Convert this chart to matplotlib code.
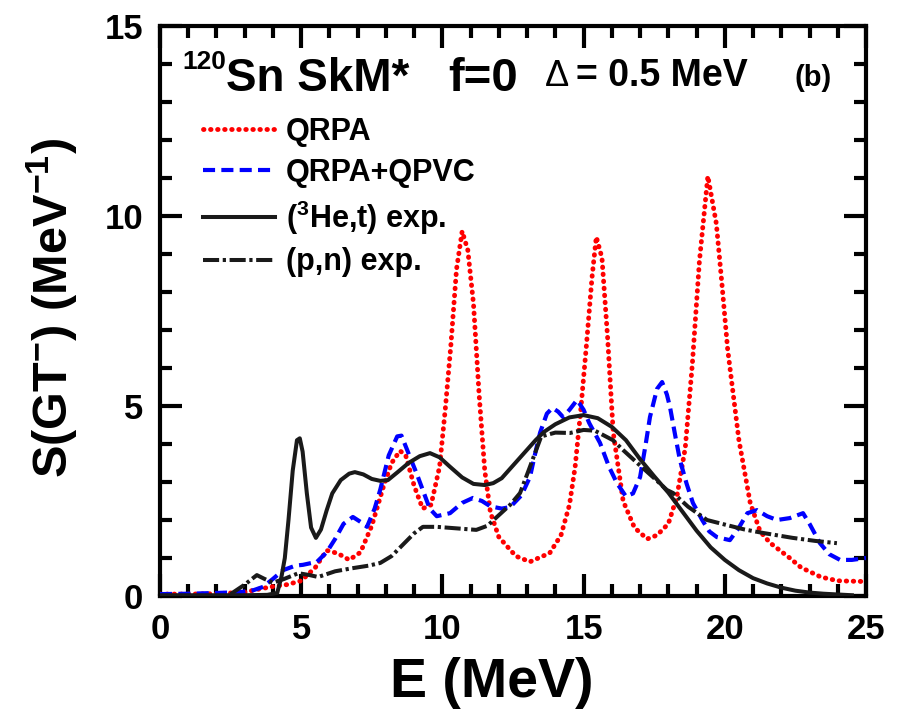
import matplotlib
matplotlib.use("Agg")
import matplotlib.pyplot as plt
from matplotlib.ticker import MultipleLocator

plt.rcParams['font.family'] = ['Liberation Sans', 'DejaVu Sans']
plt.rcParams['font.weight'] = 'bold'
plt.rcParams['mathtext.fontset'] = 'custom'
plt.rcParams['mathtext.rm'] = 'Liberation Sans:bold'
plt.rcParams['mathtext.it'] = 'Liberation Sans:bold'
plt.rcParams['mathtext.bf'] = 'Liberation Sans:bold'
plt.rcParams['mathtext.default'] = 'rm'

# QRPA (red dotted)
qrpa_e = [0, 1, 2, 3, 3.5, 4.0, 4.5, 5.0, 5.5, 5.9, 6.3, 6.7, 7.1, 7.5, 7.9, 8.2, 8.5, 8.7,
          9.0, 9.3, 9.6, 9.9, 10.1, 10.3, 10.5, 10.7, 10.9, 11.1, 11.3, 11.5, 11.7, 12.0,
          12.6, 13.1, 13.8, 14.2, 14.5, 14.7, 14.9, 15.1, 15.3, 15.45, 15.65, 15.85, 16.05,
          16.4, 16.8, 17.25, 17.6, 18.0, 18.3, 18.6, 18.85, 19.1, 19.4, 19.7, 19.9, 20.1,
          20.5, 20.9, 21.25, 21.6, 21.95, 22.3, 22.7, 23.4, 24.0, 25.0]
qrpa_s = [0.05, 0.05, 0.06, 0.1, 0.18, 0.25, 0.3, 0.4, 0.75, 1.2, 1.12, 0.95, 1.15, 1.85, 2.85,
          3.5, 3.82, 3.7, 2.9, 2.3, 2.4, 3.4, 4.9, 6.6, 8.6, 9.6, 9.1, 7.7, 5.3, 3.3, 2.2, 1.55,
          1.05, 0.9, 1.13, 1.6, 2.4, 3.4, 4.9, 6.6, 8.4, 9.45, 8.9, 6.8, 4.3,
          2.5, 1.8, 1.5, 1.6, 1.9, 2.6, 3.9, 6.1, 8.8, 11.05, 9.8, 8.2, 6.5,
          4.1, 2.45, 1.7, 1.4, 1.2, 1.0, 0.75, 0.5, 0.4, 0.38]

# QRPA+QPVC (blue dashed)
qpvc_e = [0, 1, 2, 2.8, 3.3, 3.65, 4.0, 4.36, 4.8, 5.06, 5.56, 5.9, 6.2, 6.5, 6.83, 7.1, 7.33,
          7.6, 7.8, 8.1, 8.4, 8.55, 8.85, 9.1, 9.3, 9.55, 9.8, 10.27, 10.7, 11.08, 11.4, 11.7,
          12.1, 12.4, 12.8, 13.1, 13.3, 13.46, 13.7, 13.9, 14.1, 14.27, 14.5, 14.77, 15.0,
          15.2, 15.58, 15.9, 16.18, 16.5, 16.75, 17.0, 17.2, 17.35, 17.6, 17.78, 17.95, 18.06,
          18.25, 18.41, 18.65, 18.87, 19.2, 19.45, 19.72, 20.0, 20.18, 20.5, 20.8, 21.14,
          21.5, 21.85, 22.3, 22.77, 23.0, 23.37, 23.7, 24.08, 24.5, 25.0]
qpvc_s = [0.05, 0.06, 0.08, 0.1, 0.15, 0.24, 0.45, 0.68, 0.8, 0.82, 0.9, 1.15, 1.5, 1.9, 2.08,
          1.95, 1.82, 2.3, 2.8, 3.7, 4.2, 4.22, 3.66, 3.2, 2.8, 2.3, 2.1, 2.18, 2.45, 2.58, 2.5,
          2.36, 2.3, 2.34, 2.65, 3.13, 3.8, 4.3, 4.8, 4.95, 4.85, 4.71, 4.9, 5.16, 4.9,
          4.55, 4.03, 3.4, 2.97, 2.62, 2.7, 3.13, 4.0, 4.71, 5.45, 5.63, 5.3, 4.97,
          4.2, 3.58, 2.95, 2.45, 2.0, 1.7, 1.55, 1.5, 1.47, 1.8, 2.18, 2.26,
          2.1, 2.0, 2.05, 2.18, 1.9, 1.39, 1.1, 0.95, 0.95, 1.0]

# (3He,t) experiment (black solid)
het_e = [0, 3.0, 3.8, 4.15, 4.3, 4.42, 4.55, 4.7, 4.85, 4.95, 5.05, 5.2, 5.35, 5.52, 5.7, 5.9,
         6.1, 6.4, 6.7, 6.9, 7.2, 7.5, 7.8, 8.07, 8.4, 8.8, 9.2, 9.56, 9.9, 10.27, 10.7, 11.1,
         11.5, 11.8, 12.1, 12.4, 12.7, 13.0, 13.3, 13.6, 14.0, 14.5, 15.0, 15.5, 16.0, 16.5,
         17.0, 17.5, 18.0, 18.5, 19.0, 19.5, 20.0, 20.5, 21.0, 21.5, 22.0, 22.5, 23.0, 23.5,
         24.0, 24.5]
het_s = [0.02, 0.02, 0.03, 0.08, 0.5, 1.0, 2.0, 3.3, 4.1, 4.15, 3.8, 2.7, 1.8, 1.53, 1.75, 2.25,
         2.7, 3.05, 3.22, 3.26, 3.2, 3.08, 3.03, 3.05, 3.25, 3.5, 3.68, 3.76, 3.65, 3.4, 3.12, 2.95,
         2.92, 2.97, 3.1, 3.35, 3.6, 3.85, 4.1, 4.32, 4.52, 4.7, 4.76, 4.68, 4.45, 4.1,
         3.6, 3.15, 2.72, 2.22, 1.72, 1.28, 0.95, 0.68, 0.47, 0.33, 0.22, 0.14, 0.09, 0.06,
         0.04, 0.02]

# (p,n) experiment (black dash-dot)
pn_e = [2.5, 3.0, 3.43, 3.7, 4.0, 4.4, 4.9, 5.3, 5.6, 6.2, 6.8, 7.4, 7.8, 8.2, 8.6, 9.0, 9.31,
        9.8, 10.5, 11.2, 11.6, 11.93, 12.4, 12.75, 13.05, 13.5, 14.0, 14.52, 15.0, 15.4, 16.04,
        16.4, 16.9, 17.5, 17.95, 18.17, 18.7, 19.37, 20.0, 20.7, 21.35, 22.4, 23.2, 23.97]
pn_s = [0.05, 0.3, 0.55, 0.45, 0.35, 0.45, 0.6, 0.55, 0.5, 0.65, 0.73, 0.8, 0.87, 1.05, 1.35,
        1.65, 1.82, 1.82, 1.78, 1.74, 1.85, 2.08, 2.4, 2.71, 3.3, 4.2, 4.3, 4.29, 4.37, 4.35, 4.1,
        3.84, 3.5, 3.1, 2.79, 2.71, 2.35, 2.0, 1.88, 1.75, 1.66, 1.53, 1.45, 1.39]

W, H = 903, 717
fig = plt.figure(figsize=(W/100., H/100.), dpi=100)
ax = fig.add_axes([160./W, 121./H, 706./W, 570./H])

ax.plot(qrpa_e, qrpa_s, color='#ff0000', lw=3.5, ls=(0, (0.1, 1.35)),
        dash_capstyle='round', label='QRPA', zorder=3)
ax.plot(qpvc_e, qpvc_s, color='#0000ff', lw=3.0, ls=(0, (2.9, 1.5)),
        label='QRPA+QPVC', zorder=4)
ax.plot(het_e, het_s, color='#1a1a1a', lw=2.9, ls='-',
        label=r'($^{3}$He,t) exp.', zorder=5)
ax.plot(pn_e, pn_s, color='#1a1a1a', lw=2.9, ls=(0, (4.0, 0.9, 0.8, 0.9)),
        label='(p,n) exp.', zorder=4)

ax.set_xlim(0, 25)
ax.set_ylim(0, 15)
ax.xaxis.set_major_locator(MultipleLocator(5))
ax.xaxis.set_minor_locator(MultipleLocator(1))
ax.yaxis.set_major_locator(MultipleLocator(5))
ax.yaxis.set_minor_locator(MultipleLocator(1))
ax.tick_params(which='both', direction='in', top=True, right=True, width=3,
               labelsize=25, pad=12)
ax.tick_params(which='major', length=16)
ax.tick_params(which='minor', length=8.5)
for axis in ['top', 'bottom', 'left', 'right']:
  ax.spines[axis].set_linewidth(3)
for lab in ax.get_xticklabels() + ax.get_yticklabels():
  lab.set_fontweight('bold')

fig.text(492./W, 1-683./H, 'E (MeV)', fontsize=40, fontweight='bold',
         ha='center', va='center')
fig.text(52./W, 1-308./H, r'S(GT$^{-}$) (MeV$^{-1}$)', fontsize=35, fontweight='bold',
         ha='center', va='center', rotation=90)

# title inside the frame
fig.text(182./W, 1-69./H, '120', fontsize=19, fontweight='bold', va='baseline')
fig.text(226./W, 1-91./H, 'Sn SkM*', fontsize=33, fontweight='bold', va='baseline')
fig.text(448./W, 1-91./H, 'f=0', fontsize=34, fontweight='bold', va='baseline')
fig.text(545./W, 1-86./H, u'\u0394', fontsize=26, fontweight='normal', va='baseline')
fig.text(576./W, 1-86./H, '= 0.5 MeV', fontsize=27, fontweight='bold', va='baseline')
fig.text(795./W, 1-86./H, '(b)', fontsize=21, fontweight='bold', va='baseline')

leg = ax.legend(loc='upper left', bbox_to_anchor=((203.-160)/706, (596.-117)/570),
                frameon=False, fontsize=22, handlelength=2.35, handletextpad=0.35,
                labelspacing=0.35, borderpad=0, borderaxespad=0)
for t in leg.get_texts():
  t.set_fontweight('bold')

fig.savefig('out.png', dpi=100)
